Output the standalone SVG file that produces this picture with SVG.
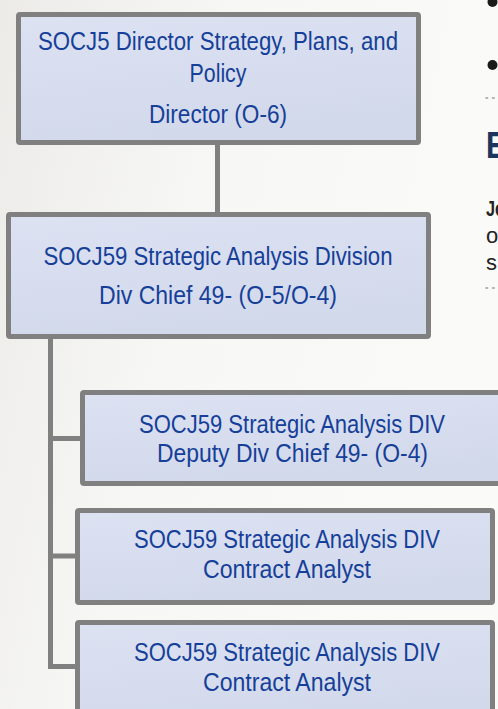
<svg xmlns="http://www.w3.org/2000/svg" width="498" height="709" viewBox="0 0 498 709">
<defs>
<linearGradient id="bg" x1="0" y1="0" x2="1" y2="0.3">
<stop offset="0" stop-color="#ecebe8"/>
<stop offset="0.45" stop-color="#f7f7f5"/>
<stop offset="1" stop-color="#fafaf9"/>
</linearGradient>
<linearGradient id="boxfill" x1="0" y1="0" x2="0.3" y2="1">
<stop offset="0" stop-color="#dce2f2"/>
<stop offset="1" stop-color="#d2d9eb"/>
</linearGradient>
<style>
.box{fill:url(#boxfill);stroke:#808080;stroke-width:5}
.conn{fill:none;stroke:#808080;stroke-width:5;stroke-linejoin:miter}
.t{font-family:"Liberation Sans Narrow","Liberation Sans",Arial,sans-serif;font-size:26.5px;fill:#163f99;text-anchor:middle}
.side{font-family:"Liberation Sans",Arial,sans-serif;fill:#222222}
.dots{stroke:#9a9a9a;stroke-width:1.6;stroke-dasharray:1.6 5;stroke-linecap:round}
</style>
</defs>
<rect width="498" height="709" fill="url(#bg)"/>
<g id="page-edge">
<circle cx="492.5" cy="2" r="5" fill="#1a1a1a"/>
<circle cx="492.5" cy="65" r="5" fill="#1a1a1a"/>
<line class="dots" x1="486" y1="98" x2="498" y2="98"/>
<text x="486" y="158" font-family="Liberation Sans,Arial,sans-serif" font-size="36" font-weight="bold" fill="#1b365d" textLength="20" lengthAdjust="spacingAndGlyphs">E</text>
<text class="side" x="486" y="216" font-size="22" font-weight="bold" textLength="19" lengthAdjust="spacingAndGlyphs">Jo</text>
<text class="side" x="486" y="243" font-size="22">o</text>
<text class="side" x="486" y="270" font-size="22">s</text>
<line class="dots" x1="486" y1="288" x2="498" y2="288"/>
</g>
<g id="connectors">
<path class="conn" d="M217.5,145 V212"/>
<path class="conn" d="M50.5,339 V666.5 H77"/>
<path class="conn" d="M50.5,438.5 H82"/>
<path class="conn" d="M50.5,556 H77"/>
</g>
<g id="node-socj5">
<rect class="box" x="18.5" y="14.5" width="400" height="128" rx="1.5"/>
<text class="t" x="218" y="50" textLength="360" lengthAdjust="spacingAndGlyphs">SOCJ5 Director Strategy, Plans, and</text>
<text class="t" x="218" y="82" textLength="57" lengthAdjust="spacingAndGlyphs">Policy</text>
<text class="t" x="218" y="123" textLength="138" lengthAdjust="spacingAndGlyphs">Director (O-6)</text>
</g>
<g id="node-socj59-div">
<rect class="box" x="8.5" y="214.5" width="420" height="122" rx="1.5"/>
<text class="t" x="218" y="265" textLength="349" lengthAdjust="spacingAndGlyphs">SOCJ59 Strategic Analysis Division</text>
<text class="t" x="218" y="304" textLength="238" lengthAdjust="spacingAndGlyphs">Div Chief 49- (O-5/O-4)</text>
</g>
<g id="node-deputy">
<rect class="box" x="82.5" y="392.5" width="430" height="91" rx="1.5"/>
<text class="t" x="292" y="433" textLength="306" lengthAdjust="spacingAndGlyphs">SOCJ59 Strategic Analysis DIV</text>
<text class="t" x="292.5" y="462" textLength="271" lengthAdjust="spacingAndGlyphs">Deputy Div Chief 49- (O-4)</text>
</g>
<g id="node-analyst-1">
<rect class="box" x="77.5" y="510.5" width="415" height="92" rx="1.5"/>
<text class="t" x="287" y="548" textLength="306" lengthAdjust="spacingAndGlyphs">SOCJ59 Strategic Analysis DIV</text>
<text class="t" x="287" y="578" textLength="168" lengthAdjust="spacingAndGlyphs">Contract Analyst</text>
</g>
<g id="node-analyst-2">
<rect class="box" x="77.5" y="622.5" width="415" height="100" rx="1.5"/>
<text class="t" x="287" y="661" textLength="306" lengthAdjust="spacingAndGlyphs">SOCJ59 Strategic Analysis DIV</text>
<text class="t" x="287" y="691" textLength="168" lengthAdjust="spacingAndGlyphs">Contract Analyst</text>
</g>
</svg>
